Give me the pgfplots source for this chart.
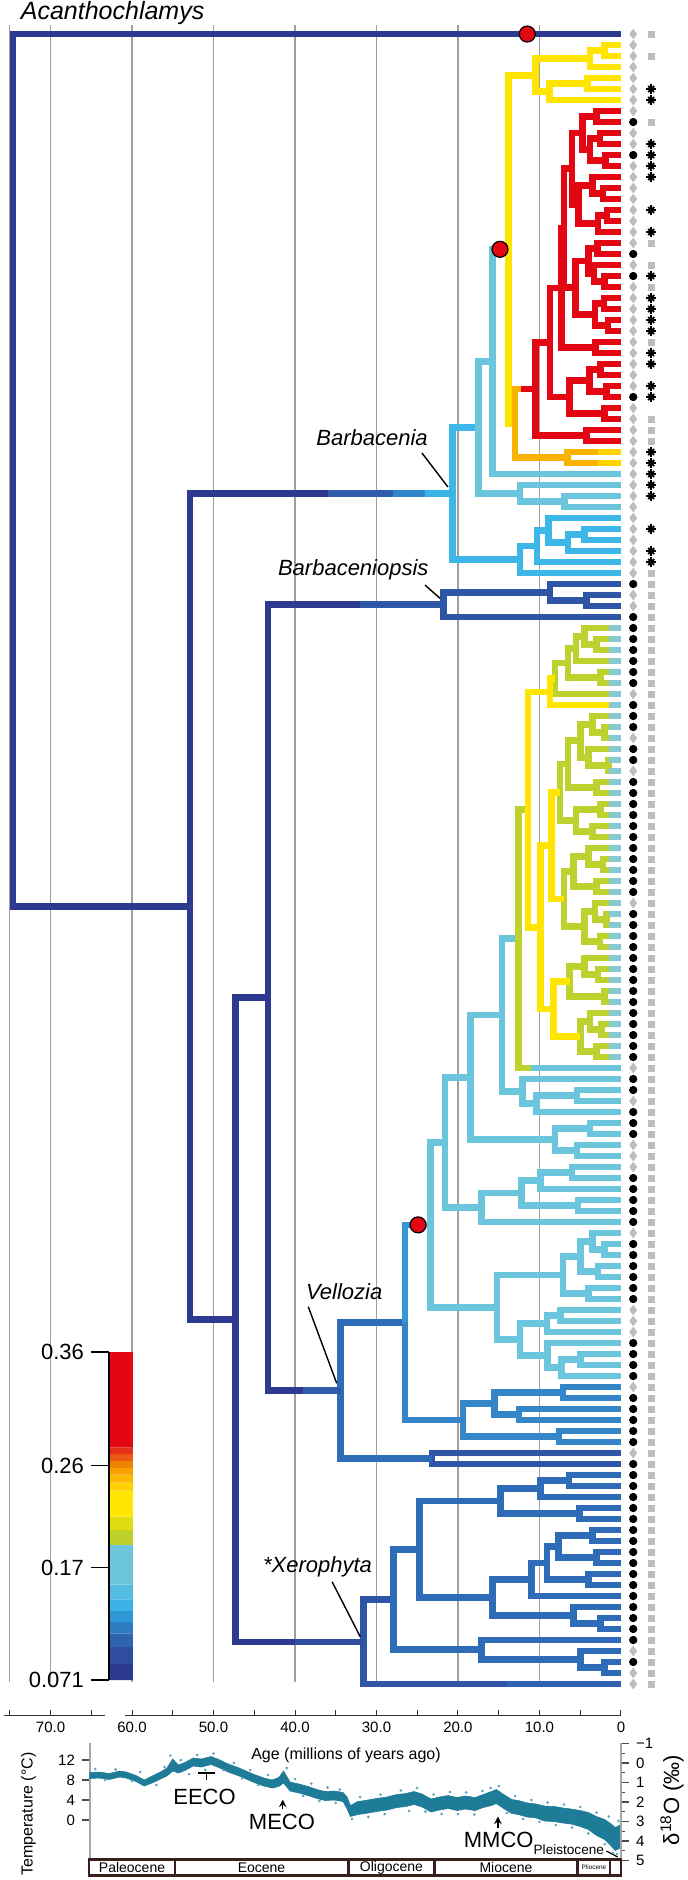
\documentclass[border=0pt]{standalone}
\usepackage{fontspec}
\setmainfont{Liberation Sans}
\usepackage{pgfplots}
\pgfplotsset{compat=1.18}
\definecolor{cNavy}{HTML}{2E3A8F}
\definecolor{cDBlue}{HTML}{2F55A7}
\definecolor{cMBlue}{HTML}{2E6CB7}
\definecolor{cMB2}{HTML}{3586C9}
\definecolor{cV1}{HTML}{3596D6}
\definecolor{cBBlue}{HTML}{3DB7E7}
\definecolor{cLBlue}{HTML}{6BC5DC}
\definecolor{cYG}{HTML}{BDD22E}
\definecolor{cYel}{HTML}{FFE500}
\definecolor{cGold}{HTML}{F9B300}
\definecolor{cRed}{HTML}{E30613}
\definecolor{cTipB}{HTML}{86C8D3}
\definecolor{cYel2}{HTML}{FFD400}
\definecolor{cTeal}{HTML}{1F7C98}
\definecolor{cTealL}{HTML}{5FA6BE}
\definecolor{cEpoch}{HTML}{3B1E1E}
\definecolor{cMark}{HTML}{BDBDBD}
\pgfplotsset{br/.style={line width=3.3pt, line join=miter, mark=none}}
\begin{document}
\begin{tikzpicture}
\useasboundingbox (0,0) rectangle (343.5pt,-940pt);
% ---------------- main tree ----------------
\begin{axis}[at={(0pt,0pt)}, anchor=north west, scale only axis,
  width=343.5pt, height=850pt, xmin=-8.098, xmax=76.196, x dir=reverse,
  ymin=-3.0909, ymax=151.4545, y dir=reverse, hide axis, clip=false,
  unbounded coords=jump, /pgf/number format/assume math mode=true]
% grid lines
\addplot[gray!75, line width=0.6pt, mark=none] coordinates {
(75,-0.8) (75,149.8) (nan,nan) (70,-0.8) (70,149.8) (nan,nan)
(60,-0.8) (60,149.8) (nan,nan) (50,-0.8) (50,149.8) (nan,nan)
(40,-0.8) (40,149.8) (nan,nan) (30,-0.8) (30,149.8) (nan,nan)
(20,-0.8) (20,149.8) (nan,nan) (10,-0.8) (10,149.8)};
% navy backbone
\addplot[br, cNavy] coordinates {
(0,0) (74.6,0) (74.6,79.33) (52.9,79.33) (nan,nan)
(20.7,41.78) (52.9,41.78) (52.9,116.87) (47.3,116.87) (nan,nan)
(43.3,87.59) (47.3,87.59) (47.3,146.16) (31.6,146.16) (nan,nan)
(21.8,51.875) (43.3,51.875) (43.3,123.31) (34.4,123.31)};
% dark blue
\addplot[br, cDBlue] coordinates {
(8.7,50.75) (21.8,50.75) (21.8,53) (0,53) (nan,nan)
(0,50) (8.7,50) (8.7,51.5) (4.2,51.5) (nan,nan)
(0,51) (4.2,51) (4.2,52) (0,52) (nan,nan)
(0,129) (23.2,129) (23.2,130) (0,130) (nan,nan)
(27.9,142.31) (31.6,142.31) (31.6,150) (0,150)};
% mid blue (Vellozia node, Xerophyta)
\addplot[br, cMBlue] coordinates {
(26.5,117.13) (34.4,117.13) (34.4,129.5) (23.2,129.5) (nan,nan)
(24.7,137.75) (27.9,137.75) (27.9,146.875) (17.1,146.875) (nan,nan)
(14.8,133.375) (24.7,133.375) (24.7,142.125) (15.8,142.125) (nan,nan)
(9.9,132.25) (14.8,132.25) (14.8,134.5) (5.1,134.5) (nan,nan)
(6.4,131.5) (9.9,131.5) (9.9,133) (0,133) (nan,nan)
(0,131) (6.4,131) (6.4,132) (0,132) (nan,nan)
(0,134) (5.1,134) (5.1,135) (0,135) (nan,nan)
(11,140.5) (15.8,140.5) (15.8,143.75) (5.8,143.75) (nan,nan)
(9.1,139) (11,139) (11,142) (0,142) (nan,nan)
(7.7,137.5) (9.1,137.5) (9.1,140.5) (4,140.5) (nan,nan)
(3.5,136.5) (7.7,136.5) (7.7,138.5) (3,138.5) (nan,nan)
(0,136) (3.5,136) (3.5,137) (0,137) (nan,nan)
(0,138) (3,138) (3,139) (0,139) (nan,nan)
(0,140) (4,140) (4,141) (0,141) (nan,nan)
(0,143) (5.8,143) (5.8,144.5) (2.5,144.5) (nan,nan)
(0,144) (2.5,144) (2.5,145) (0,145) (nan,nan)
(0,146) (17.1,146) (17.1,147.75) (5,147.75) (nan,nan)
(0,147) (5,147) (5,148.5) (2,148.5) (nan,nan)
(0,148) (2,148) (2,149) (0,149)};
% V1 -> V2
\addplot[br, cV1] coordinates {(26.5,117.13) (26.5,108.26) (23.4,108.26)};
% MB clade
\addplot[br, cMB2] coordinates {
(26.5,117.13) (26.5,126) (19.4,126) (nan,nan)
(15.5,124.5) (19.4,124.5) (19.4,127.5) (7.6,127.5) (nan,nan)
(7.1,123.5) (15.5,123.5) (15.5,125.5) (12.5,125.5) (nan,nan)
(0,123) (7.1,123) (7.1,124) (0,124) (nan,nan)
(0,125) (12.5,125) (12.5,126) (0,126) (nan,nan)
(0,127) (7.6,127) (7.6,128) (0,128)};
% bright blue
\addplot[br, cBBlue] coordinates {
(17.5,35.765) (20.7,35.765) (20.7,47.78) (12.4,47.78) (nan,nan)
(10.3,46.56) (12.4,46.56) (12.4,49) (0,49) (nan,nan)
(8.9,45.125) (10.3,45.125) (10.3,48) (0,48) (nan,nan)
(0,44) (8.9,44) (8.9,46.25) (6.5,46.25) (nan,nan)
(4.5,45.5) (6.5,45.5) (6.5,47) (0,47) (nan,nan)
(0,45) (4.5,45) (4.5,46) (0,46)};
% light blue
\addplot[br, cLBlue] coordinates {
(15.8,29.785) (17.5,29.785) (17.5,41.75) (12.4,41.75) (nan,nan)
(13.8,19.57) (15.8,19.57) (15.8,40) (0,40) (nan,nan)
(0,41) (12.4,41) (12.4,42.5) (6.9,42.5) (nan,nan)
(0,42) (6.9,42) (6.9,43) (0,43) (nan,nan)
(21.6,100.77) (23.4,100.77) (23.4,115.75) (15.2,115.75) (nan,nan)
(18.5,94.84) (21.6,94.84) (21.6,106.69) (17.1,106.69) (nan,nan)
(14.6,89.19) (18.5,89.19) (18.5,100.5) (8.1,100.5) (nan,nan)
(12.6,82.25) (14.6,82.25) (14.6,96.125) (12.1,96.125) (nan,nan)
(0,95) (12.1,95) (12.1,97.25) (10.4,97.25) (nan,nan)
(5.4,96.5) (10.4,96.5) (10.4,98) (0,98) (nan,nan)
(0,96) (5.4,96) (5.4,97) (0,97) (nan,nan)
(3.8,99.5) (8.1,99.5) (8.1,101.5) (5.4,101.5) (nan,nan)
(0,99) (3.8,99) (3.8,100) (0,100) (nan,nan)
(0,101) (5.4,101) (5.4,102) (0,102) (nan,nan)
(12.2,105.375) (17.1,105.375) (17.1,108) (0,108) (nan,nan)
(9.9,104.25) (12.2,104.25) (12.2,106.5) (5.3,106.5) (nan,nan)
(6,103.5) (9.9,103.5) (9.9,105) (0,105) (nan,nan)
(0,103) (6,103) (6,104) (0,104) (nan,nan)
(0,106) (5.3,106) (5.3,107) (0,107) (nan,nan)
(7.1,112.81) (15.2,112.81) (15.2,118.69) (12.4,118.69) (nan,nan)
(5,111.125) (7.1,111.125) (7.1,114.5) (4,114.5) (nan,nan)
(3.5,109.75) (5,109.75) (5,112.5) (2.8,112.5) (nan,nan)
(0,109) (3.5,109) (3.5,110.5) (2,110.5) (nan,nan)
(0,110) (2,110) (2,111) (0,111) (nan,nan)
(0,112) (2.8,112) (2.8,113) (0,113) (nan,nan)
(0,114) (4,114) (4,115) (0,115) (nan,nan)
(9.1,117.25) (12.4,117.25) (12.4,120.125) (9,120.125) (nan,nan)
(7.4,116.5) (9.1,116.5) (9.1,118) (0,118) (nan,nan)
(0,116) (7.4,116) (7.4,117) (0,117) (nan,nan)
(0,119) (9,119) (9,121.25) (7.3,121.25) (nan,nan)
(5,120.5) (7.3,120.5) (7.3,122) (0,122) (nan,nan)
(0,120) (5,120) (5,121) (0,121)};
% yellow-green
\addplot[br, cYG] coordinates {
(11.4,70.5) (12.6,70.5) (12.6,94) (0,94) (nan,nan)
(6.5,57.19) (8.1,57.19) (8.1,60) (0,60) (nan,nan)
(5.5,55.875) (6.5,55.875) (6.5,58.5) (2.5,58.5) (nan,nan)
(4.5,54.75) (5.5,54.75) (5.5,57) (0,57) (nan,nan)
(0,54) (4.5,54) (4.5,55.5) (3,55.5) (nan,nan)
(0,55) (3,55) (3,56) (0,56) (nan,nan)
(0,58) (2.5,58) (2.5,59) (0,59) (nan,nan)
(6.5,66.375) (7.5,66.375) (7.5,71.5) (5.5,71.5) (nan,nan)
(5,64.25) (6.5,64.25) (6.5,68.5) (3,68.5) (nan,nan)
(3.5,62.75) (5,62.75) (5,65.75) (4,65.75) (nan,nan)
(0,62) (3.5,62) (3.5,63.5) (2,63.5) (nan,nan)
(0,63) (2,63) (2,64) (0,64) (nan,nan)
(0,65) (4,65) (4,66.5) (1.5,66.5) (nan,nan)
(0,66) (1.5,66) (1.5,67) (0,67) (nan,nan)
(0,68) (3,68) (3,69) (0,69) (nan,nan)
(2.5,70.5) (5.5,70.5) (5.5,72.5) (3.5,72.5) (nan,nan)
(0,70) (2.5,70) (2.5,71) (0,71) (nan,nan)
(0,72) (3.5,72) (3.5,73) (0,73) (nan,nan)
(5.8,76.125) (7,76.125) (7,81.125) (4.5,81.125) (nan,nan)
(4,74.75) (5.8,74.75) (5.8,77.5) (3,77.5) (nan,nan)
(0,74) (4,74) (4,75.5) (2.2,75.5) (nan,nan)
(0,75) (2.2,75) (2.2,76) (0,76) (nan,nan)
(0,77) (3,77) (3,78) (0,78) (nan,nan)
(3.2,79.75) (4.5,79.75) (4.5,82.5) (2.6,82.5) (nan,nan)
(0,79) (3.2,79) (3.2,80.5) (1.8,80.5) (nan,nan)
(0,80) (1.8,80) (1.8,81) (0,81) (nan,nan)
(0,82) (2.6,82) (2.6,83) (0,83) (nan,nan)
(4.5,84.75) (6.3,84.75) (6.3,87.5) (2,87.5) (nan,nan)
(0,84) (4.5,84) (4.5,85.5) (2.8,85.5) (nan,nan)
(0,85) (2.8,85) (2.8,86) (0,86) (nan,nan)
(0,87) (2,87) (2,88) (0,88) (nan,nan)
(3.8,89.75) (5,89.75) (5,92.5) (3,92.5) (nan,nan)
(0,89) (3.8,89) (3.8,90.5) (2.4,90.5) (nan,nan)
(0,90) (2.4,90) (2.4,91) (0,91) (nan,nan)
(0,92) (3,92) (3,93) (0,93)};
% yellow
\addplot[br, cYel] coordinates {
(10.5,3.75) (13.8,3.75) (13.8,35.385) (13,35.385) (nan,nan)
(3.8,2.25) (10.5,2.25) (10.5,5.25) (8.8,5.25) (nan,nan)
(2,1.5) (3.8,1.5) (3.8,3) (0,3) (nan,nan)
(0,1) (2,1) (2,2) (0,2) (nan,nan)
(4.1,4.5) (8.8,4.5) (8.8,6) (0,6) (nan,nan)
(0,4) (4.1,4) (4.1,5) (0,5) (nan,nan)
(8.7,59.8) (11.4,59.8) (11.4,81.2) (9.9,81.2) (nan,nan)
(8.5,73.78) (9.9,73.78) (9.9,88.625) (8.3,88.625) (nan,nan)
(7.5,68.94) (8.5,68.94) (8.5,78.625) (7,78.625) (nan,nan)
(8.1,58.595) (8.7,58.595) (8.7,61) (0,61) (nan,nan)
(6.3,86.125) (8.3,86.125) (8.3,91.125) (5,91.125)};
% gold
\addplot[br, cGold] coordinates {
(10.5,32.27) (13,32.27) (13,38.5) (6.6,38.5) (nan,nan)
(0,38) (6.6,38) (6.6,39) (0,39)};
% red
\addplot[br, cRed] coordinates {
(8.7,28.04) (10.5,28.04) (10.5,36.5) (4.2,36.5) (nan,nan)
(0,36) (4.2,36) (4.2,37) (0,37) (nan,nan)
(7.3,23.08) (8.7,23.08) (8.7,33) (6.3,33) (nan,nan)
(7,17.655) (7.3,17.655) (7.3,28.5) (3.1,28.5) (nan,nan)
(0,28) (3.1,28) (3.1,29) (0,29) (nan,nan)
(6,12.25) (7,12.25) (7,23.06) (5.6,23.06) (nan,nan)
(4.7,9) (6,9) (6,15.5) (5.2,15.5) (nan,nan)
(3,7.5) (4.7,7.5) (4.7,10.5) (3.8,10.5) (nan,nan)
(0,7) (3,7) (3,8) (0,8) (nan,nan)
(2.6,9.5) (3.8,9.5) (3.8,11.5) (1.9,11.5) (nan,nan)
(0,9) (2.6,9) (2.6,10) (0,10) (nan,nan)
(0,11) (1.9,11) (1.9,12) (0,12) (nan,nan)
(3.5,13.75) (5.2,13.75) (5.2,17.25) (2.8,17.25) (nan,nan)
(0,13) (3.5,13) (3.5,14.5) (2.2,14.5) (nan,nan)
(0,14) (2.2,14) (2.2,15) (0,15) (nan,nan)
(1.7,16.5) (2.8,16.5) (2.8,18) (0,18) (nan,nan)
(0,16) (1.7,16) (1.7,17) (0,17) (nan,nan)
(4,20.625) (5.6,20.625) (5.6,25.5) (3.2,25.5) (nan,nan)
(2.9,19.5) (4,19.5) (4,21.75) (3.3,21.75) (nan,nan)
(0,19) (2.9,19) (2.9,20) (0,20) (nan,nan)
(0,21) (3.3,21) (3.3,22.5) (2,22.5) (nan,nan)
(0,22) (2,22) (2,23) (0,23) (nan,nan)
(2.1,24.5) (3.2,24.5) (3.2,26.5) (1.6,26.5) (nan,nan)
(0,24) (2.1,24) (2.1,25) (0,25) (nan,nan)
(0,26) (1.6,26) (1.6,27) (0,27) (nan,nan)
(3.9,31.5) (6.3,31.5) (6.3,34.5) (2,34.5) (nan,nan)
(2.5,30.5) (3.9,30.5) (3.9,32.5) (1.8,32.5) (nan,nan)
(0,30) (2.5,30) (2.5,31) (0,31) (nan,nan)
(0,32) (1.8,32) (1.8,33) (0,33) (nan,nan)
(0,34) (2,34) (2,35) (0,35)};
% gradient overlays
\addplot[br, color={rgb,255:red,47;green,92;blue,172}] coordinates {(36,41.78) (28,41.78)};
\addplot[br, color={rgb,255:red,47;green,135;blue,205}] coordinates {(28,41.78) (24,41.78)};
\addplot[br, color={rgb,255:red,56;green,179;blue,232}] coordinates {(24,41.78) (20.7,41.78)};
\addplot[br, cDBlue] coordinates {(32,51.875) (21.8,51.875)};
\addplot[br, color={rgb,255:red,46;green,93;blue,173}] coordinates {(39,123.31) (34.4,123.31)};
\addplot[br, color={rgb,255:red,47;green,78;blue,162}] coordinates {(40,146.16) (31.6,146.16)};
\addplot[br, color={rgb,255:red,47;green,98;blue,176}] coordinates {(14,150) (0,150)};
\addplot[br, cLBlue] coordinates {(24.9,108.26) (23.4,108.26) (nan,nan) (11,94) (0,94)};
\addplot[br, cRed] coordinates {(12.3,32.27) (10.5,32.27)};
\addplot[br, cYel2] coordinates {(2.8,38) (0,38) (nan,nan) (2.8,39) (0,39)};
\addplot[br, cTipB] coordinates {
(1.5,54) (0,54) (nan,nan) (1.5,55) (0,55) (nan,nan) (1.5,56) (0,56) (nan,nan)
(1.5,57) (0,57) (nan,nan) (1.5,58) (0,58) (nan,nan) (1.5,59) (0,59) (nan,nan)
(1.5,60) (0,60) (nan,nan) (1.5,61) (0,61) (nan,nan) (1.5,62) (0,62) (nan,nan)
(1.5,63) (0,63) (nan,nan) (1.5,64) (0,64) (nan,nan) (1.5,65) (0,65) (nan,nan)
(1.5,66) (0,66) (nan,nan) (1.5,67) (0,67) (nan,nan) (1.5,68) (0,68) (nan,nan)
(1.5,69) (0,69) (nan,nan) (1.5,70) (0,70) (nan,nan) (1.5,71) (0,71) (nan,nan)
(1.5,72) (0,72) (nan,nan) (1.5,73) (0,73) (nan,nan) (1.5,74) (0,74) (nan,nan)
(1.5,75) (0,75) (nan,nan) (1.5,76) (0,76) (nan,nan) (1.5,77) (0,77) (nan,nan)
(1.5,78) (0,78) (nan,nan) (1.5,79) (0,79) (nan,nan) (1.5,80) (0,80) (nan,nan)
(1.5,81) (0,81) (nan,nan) (1.5,82) (0,82) (nan,nan) (1.5,83) (0,83) (nan,nan)
(1.5,84) (0,84) (nan,nan) (1.5,85) (0,85) (nan,nan) (1.5,86) (0,86) (nan,nan)
(1.5,87) (0,87) (nan,nan) (1.5,88) (0,88) (nan,nan) (1.5,89) (0,89) (nan,nan)
(1.5,90) (0,90) (nan,nan) (1.5,91) (0,91) (nan,nan) (1.5,92) (0,92) (nan,nan)
(1.5,93) (0,93)};
% red circles (rate shifts)
\addplot[only marks, mark=*, mark size=4pt, mark options={fill=cRed, draw=black, line width=0.6pt}]
 coordinates {(11.5,0) (14.85,19.57) (24.9,108.26)};
% column 1: circles and diamonds
\addplot[only marks, mark=*, mark size=1.85pt, black] coordinates {
(-1.5,8) (-1.5,11) (-1.5,20) (-1.5,22) (-1.5,33) (-1.5,50) (-1.5,53) (-1.5,54) (-1.5,55)
(-1.5,56) (-1.5,57) (-1.5,58) (-1.5,59) (-1.5,61) (-1.5,62) (-1.5,63) (-1.5,65) (-1.5,66)
(-1.5,68) (-1.5,69) (-1.5,70) (-1.5,71) (-1.5,72) (-1.5,73) (-1.5,74) (-1.5,75) (-1.5,76)
(-1.5,77) (-1.5,78) (-1.5,80) (-1.5,81) (-1.5,82) (-1.5,83) (-1.5,84) (-1.5,85) (-1.5,86)
(-1.5,87) (-1.5,88) (-1.5,89) (-1.5,90) (-1.5,91) (-1.5,92) (-1.5,93) (-1.5,95) (-1.5,96)
(-1.5,98) (-1.5,99) (-1.5,100) (-1.5,104) (-1.5,105) (-1.5,106) (-1.5,107) (-1.5,108)
(-1.5,110) (-1.5,111) (-1.5,112) (-1.5,113) (-1.5,114) (-1.5,115) (-1.5,119) (-1.5,120)
(-1.5,121) (-1.5,122) (-1.5,124) (-1.5,125) (-1.5,126) (-1.5,127) (-1.5,128) (-1.5,130)
(-1.5,131) (-1.5,132) (-1.5,133) (-1.5,134) (-1.5,135) (-1.5,136) (-1.5,137) (-1.5,138)
(-1.5,139) (-1.5,140) (-1.5,141) (-1.5,142) (-1.5,143) (-1.5,144) (-1.5,145) (-1.5,146)
(-1.5,148)};
\addplot[only marks, mark=diamond*, mark size=2.3pt, cMark] coordinates {
(-1.5,0) (-1.5,1) (-1.5,2) (-1.5,3) (-1.5,4) (-1.5,5) (-1.5,6) (-1.5,7) (-1.5,9) (-1.5,10)
(-1.5,12) (-1.5,13) (-1.5,14) (-1.5,15) (-1.5,16) (-1.5,17) (-1.5,18) (-1.5,19) (-1.5,21)
(-1.5,23) (-1.5,24) (-1.5,25) (-1.5,26) (-1.5,27) (-1.5,28) (-1.5,29) (-1.5,30) (-1.5,31)
(-1.5,32) (-1.5,34) (-1.5,35) (-1.5,36) (-1.5,37) (-1.5,38) (-1.5,39) (-1.5,40) (-1.5,41)
(-1.5,42) (-1.5,43) (-1.5,44) (-1.5,45) (-1.5,46) (-1.5,47) (-1.5,48) (-1.5,49) (-1.5,51)
(-1.5,52) (-1.5,60) (-1.5,64) (-1.5,67) (-1.5,79) (-1.5,94) (-1.5,97) (-1.5,101) (-1.5,102)
(-1.5,103) (-1.5,109) (-1.5,116) (-1.5,117) (-1.5,118) (-1.5,123) (-1.5,129) (-1.5,147)
(-1.5,149) (-1.5,150)};
% column 2: squares and asterisks
\addplot[only marks, mark=square*, mark size=1.55pt, cMark] coordinates {
(-3.7,0) (-3.7,2) (-3.7,8) (-3.7,19) (-3.7,21) (-3.7,23) (-3.7,28) (-3.7,35) (-3.7,36)
(-3.7,37) (-3.7,49) (-3.7,50) (-3.7,51) (-3.7,52) (-3.7,53) (-3.7,54) (-3.7,55) (-3.7,56)
(-3.7,57) (-3.7,58) (-3.7,59) (-3.7,60) (-3.7,61) (-3.7,62) (-3.7,63) (-3.7,64) (-3.7,65)
(-3.7,66) (-3.7,67) (-3.7,68) (-3.7,69) (-3.7,70) (-3.7,71) (-3.7,72) (-3.7,73) (-3.7,74)
(-3.7,75) (-3.7,76) (-3.7,77) (-3.7,78) (-3.7,79) (-3.7,80) (-3.7,81) (-3.7,82) (-3.7,83)
(-3.7,84) (-3.7,85) (-3.7,86) (-3.7,87) (-3.7,88) (-3.7,89) (-3.7,90) (-3.7,91) (-3.7,92)
(-3.7,93) (-3.7,94) (-3.7,95) (-3.7,96) (-3.7,97) (-3.7,98) (-3.7,99) (-3.7,100) (-3.7,101)
(-3.7,102) (-3.7,103) (-3.7,104) (-3.7,105) (-3.7,106) (-3.7,107) (-3.7,108) (-3.7,109)
(-3.7,110) (-3.7,111) (-3.7,112) (-3.7,113) (-3.7,114) (-3.7,115) (-3.7,116) (-3.7,117)
(-3.7,118) (-3.7,119) (-3.7,120) (-3.7,121) (-3.7,122) (-3.7,123) (-3.7,124) (-3.7,125)
(-3.7,126) (-3.7,127) (-3.7,128) (-3.7,129) (-3.7,130) (-3.7,131) (-3.7,132) (-3.7,133)
(-3.7,134) (-3.7,135) (-3.7,136) (-3.7,137) (-3.7,138) (-3.7,139) (-3.7,140) (-3.7,141)
(-3.7,142) (-3.7,143) (-3.7,144) (-3.7,145) (-3.7,146) (-3.7,147) (-3.7,148) (-3.7,149)
(-3.7,150)};
\addplot[only marks, mark=+, mark size=2.4pt, black, mark options={line width=0.95pt}] coordinates {
(-3.7,5) (-3.7,6) (-3.7,10) (-3.7,11) (-3.7,12) (-3.7,13) (-3.7,16) (-3.7,18) (-3.7,22)
(-3.7,24) (-3.7,25) (-3.7,26) (-3.7,27) (-3.7,29) (-3.7,30) (-3.7,32) (-3.7,33) (-3.7,38)
(-3.7,39) (-3.7,40) (-3.7,41) (-3.7,42) (-3.7,45) (-3.7,47) (-3.7,48)};
\addplot[only marks, mark=x, mark size=2.1pt, black, mark options={line width=0.95pt}] coordinates {
(-3.7,5) (-3.7,6) (-3.7,10) (-3.7,11) (-3.7,12) (-3.7,13) (-3.7,16) (-3.7,18) (-3.7,22)
(-3.7,24) (-3.7,25) (-3.7,26) (-3.7,27) (-3.7,29) (-3.7,30) (-3.7,32) (-3.7,33) (-3.7,38)
(-3.7,39) (-3.7,40) (-3.7,41) (-3.7,42) (-3.7,45) (-3.7,47) (-3.7,48)};
% clade labels
\node[font=\fontsize{12.5}{14}\selectfont\itshape, anchor=west] at (axis cs:74.5,-1.9) {Acanthochlamys};
\node[font=\fontsize{11}{13}\selectfont\itshape] at (axis cs:30.55,36.73) {Barbacenia};
\draw[line width=0.7pt] (axis cs:24.42,38.09) -- (axis cs:21.23,41.18);
\node[font=\fontsize{11}{13}\selectfont\itshape] at (axis cs:32.85,48.73) {Barbaceniopsis};
\draw[line width=0.7pt] (axis cs:24.05,50.09) -- (axis cs:22.21,51.3);
\node[font=\fontsize{11}{13}\selectfont\itshape] at (axis cs:33.97,114.34) {Vellozia};
\draw[line width=0.7pt] (axis cs:38.37,115.7) -- (axis cs:34.88,122.66);
\node[font=\fontsize{11}{13}\selectfont\itshape] at (axis cs:37.24,139.33) {*Xerophyta};
\draw[line width=0.7pt] (axis cs:35.45,140.7) -- (axis cs:31.99,145.7);
\end{axis}
% ---------------- colour bar ----------------
\begin{axis}[at={(54.5pt,-676pt)}, anchor=north west, scale only axis,
  width=12pt, height=164pt, xmin=0, xmax=1, ymin=0.071, ymax=0.36,
  axis x line=none, axis y line*=left, axis on top,
  ytick={0.071,0.17,0.26,0.36}, yticklabels={0.071,0.17,0.26,0.36},
  tick align=outside, major tick length=9pt,
  yticklabel style={font=\fontsize{11}{12}\selectfont},
  axis line style={black, line width=0.6pt}, tick style={black, line width=0.6pt}]
\addplot[draw=none, fill={rgb,255:red,46;green,58;blue,143}] coordinates {(0,0.071) (1,0.071) (1,0.085) (0,0.085) (0,0.071)};
\addplot[draw=none, fill={rgb,255:red,47;green,76;blue,159}] coordinates {(0,0.085) (1,0.085) (1,0.100) (0,0.100) (0,0.085)};
\addplot[draw=none, fill={rgb,255:red,47;green,98;blue,175}] coordinates {(0,0.100) (1,0.100) (1,0.112) (0,0.112) (0,0.100)};
\addplot[draw=none, fill={rgb,255:red,46;green,123;blue,194}] coordinates {(0,0.112) (1,0.112) (1,0.122) (0,0.122) (0,0.112)};
\addplot[draw=none, fill={rgb,255:red,47;green,152;blue,214}] coordinates {(0,0.122) (1,0.122) (1,0.132) (0,0.132) (0,0.122)};
\addplot[draw=none, fill={rgb,255:red,59;green,179;blue,230}] coordinates {(0,0.132) (1,0.132) (1,0.142) (0,0.142) (0,0.132)};
\addplot[draw=none, fill={rgb,255:red,82;green,188;blue,226}] coordinates {(0,0.142) (1,0.142) (1,0.155) (0,0.155) (0,0.142)};
\addplot[draw=none, fill={rgb,255:red,108;green,197;blue,220}] coordinates {(0,0.155) (1,0.155) (1,0.190) (0,0.190) (0,0.155)};
\addplot[draw=none, fill={rgb,255:red,191;green,208;blue,43}] coordinates {(0,0.190) (1,0.190) (1,0.203) (0,0.203) (0,0.190)};
\addplot[draw=none, fill={rgb,255:red,224;green,220;blue,16}] coordinates {(0,0.203) (1,0.203) (1,0.215) (0,0.215) (0,0.203)};
\addplot[draw=none, fill={rgb,255:red,255;green,230;blue,0}] coordinates {(0,0.215) (1,0.215) (1,0.238) (0,0.238) (0,0.215)};
\addplot[draw=none, fill={rgb,255:red,255;green,208;blue,0}] coordinates {(0,0.238) (1,0.238) (1,0.245) (0,0.245) (0,0.238)};
\addplot[draw=none, fill={rgb,255:red,252;green,185;blue,0}] coordinates {(0,0.245) (1,0.245) (1,0.252) (0,0.252) (0,0.245)};
\addplot[draw=none, fill={rgb,255:red,247;green,161;blue,0}] coordinates {(0,0.252) (1,0.252) (1,0.258) (0,0.258) (0,0.252)};
\addplot[draw=none, fill={rgb,255:red,240;green,131;blue,0}] coordinates {(0,0.258) (1,0.258) (1,0.264) (0,0.264) (0,0.258)};
\addplot[draw=none, fill={rgb,255:red,234;green,90;blue,20}] coordinates {(0,0.264) (1,0.264) (1,0.270) (0,0.270) (0,0.264)};
\addplot[draw=none, fill={rgb,255:red,229;green,48;blue,26}] coordinates {(0,0.270) (1,0.270) (1,0.276) (0,0.276) (0,0.270)};
\addplot[draw=none, fill={rgb,255:red,227;green,6;blue,19}] coordinates {(0,0.276) (1,0.276) (1,0.360) (0,0.360) (0,0.276)};
\end{axis}
% ---------------- time axis (broken) ----------------
\begin{axis}[at={(2.2pt,-857.5pt)}, anchor=south west, scale only axis,
  width=50.55pt, height=5pt, xmin=63.25, xmax=75.66, x dir=reverse, ymin=0, ymax=1,
  axis x line*=bottom, axis y line=none,
  xtick={70}, xticklabels={70.0}, minor xtick={65,75},
  tick align=inside, major tick length=2.5pt, minor tick length=2.5pt,
  xticklabel style={font=\fontsize{7.5}{8}\selectfont},
  axis line style={black!80, line width=0.5pt}, tick style={black!80, line width=0.5pt}]
\addplot[draw=none] coordinates {(70,0.5)};
\end{axis}
\begin{axis}[at={(62.5pt,-857.5pt)}, anchor=south west, scale only axis,
  width=248pt, height=5pt, xmin=0, xmax=60.86, x dir=reverse, ymin=0, ymax=1,
  axis x line*=bottom, axis y line=none,
  xtick={0,10,20,30,40,50,60}, xticklabels={0,10.0,20.0,30.0,40.0,50.0,60.0},
  minor xtick={5,15,25,35,45,55},
  tick align=inside, major tick length=2.5pt, minor tick length=2.5pt,
  xticklabel style={font=\fontsize{7.5}{8}\selectfont},
  axis line style={black!80, line width=0.5pt}, tick style={black!80, line width=0.5pt}]
\addplot[draw=none] coordinates {(30,0.5)};
\end{axis}
\node[font=\fontsize{8}{9}\selectfont] at (173pt,-877.5pt) {Age (millions of years ago)};
% ---------------- temperature panel ----------------
\begin{axis}[at={(45pt,-871.5pt)}, anchor=north west, scale only axis,
  width=265.5pt, height=60pt, xmin=0, xmax=65.15, x dir=reverse,
  ymin=-8.6, ymax=15.4, axis x line=none, axis y line*=left, clip=false,
  ytick={0,4,8,12}, yticklabels={0,4,8,12}, tick align=outside, major tick length=4pt,
  yticklabel style={font=\fontsize{7.5}{8}\selectfont},
  axis line style={gray!70, line width=0.6pt}, tick style={black!70, line width=0.6pt}]
\addplot[fill=cTeal, draw=cTeal, line width=0.3pt, mark=none] coordinates {
(65.2,9.5) (64,9.6) (62.8,9.3) (61.5,9.8) (60.7,9.6) (59.5,8.9) (58.5,8.0) (57.4,8.9)
(56.5,9.6) (55.7,10.4) (55,12.2) (54.3,11.0) (53.5,11.5) (52.5,12.4) (51.5,12.2) (50.3,12.7)
(49.2,12.0) (48.2,11.2) (47,10.5) (46,9.8) (45,9.1) (43.8,8.4) (42.8,8.0) (42,8.5) (41.4,9.8)
(40.6,7.6) (39.5,7.2) (38.4,6.7) (37.3,6.1) (36.3,5.7) (35.2,5.8) (34.1,5.5) (33.6,4.6)
(33.2,2.9) (32.3,3.7) (31.4,3.9) (30,4.3) (28.7,4.6) (27.5,5.1) (26.4,5.3) (25.4,5.7)
(24.4,5.2) (23.3,4.2) (22.3,4.6) (21.2,4.9) (20.1,4.5) (19.1,4.8) (17.9,4.5) (16.9,5.1)
(15.9,5.7) (15.3,6.1) (14.3,5.0) (13.4,4.1) (12.6,3.9) (11.5,3.4) (10.4,3.2) (9.4,2.8)
(8.2,2.7) (7.1,2.4) (6.1,2.2) (5,1.9) (4,1.5) (3,0.7) (2,0.1) (1.2,-0.8) (0.7,-1.5) (0,-0.9)
(0,-5.5) (0.7,-6.1) (1.2,-5.2) (2,-3.9) (3,-3.1) (4,-1.9) (5,-1.3) (6.1,-0.8) (7.1,-0.6)
(8.2,-0.3) (9.4,-0.2) (10.4,0.4) (11.5,0.6) (12.6,1.1) (13.4,1.3) (14.3,2.2) (15.3,3.3)
(15.9,2.9) (16.9,2.5) (17.9,1.9) (19.1,2.2) (20.1,1.9) (21.2,2.3) (22.3,2.0) (23.3,1.6)
(24.4,2.6) (25.4,3.1) (26.4,2.7) (27.5,2.5) (28.7,2.0) (30,1.7) (31.4,1.3) (32.3,1.1)
(33.2,0.7) (33.6,2.2) (34.1,3.7) (35.2,4.0) (36.3,3.9) (37.3,4.3) (38.4,4.9) (39.5,5.4)
(40.6,5.8) (41.4,7.4) (42,6.7) (42.8,6.4) (43.8,6.8) (45,7.5) (46,8.2) (47,8.9) (48.2,9.6)
(49.2,10.4) (50.3,11.1) (51.5,10.6) (52.5,10.8) (53.5,9.9) (54.3,9.4) (55,9.8) (55.7,8.8)
(56.5,8.2) (57.4,7.5) (58.5,6.8) (59.5,7.7) (60.7,8.4) (61.5,8.6) (62.8,8.1) (64,8.4)
(65.2,8.3) (65.2,9.5)};
\addplot[only marks, mark=*, mark size=0.45pt, cTealL] coordinates {
(64.5,10.2) (63.3,8.0) (62,10.1) (60,7.8) (59,9.6) (57,7.0) (56,10.6) (55.3,12.9) (54,12.0)
(53,9.2) (52,13.0) (51,10.0) (50,13.3) (48.8,10.0) (47.5,11.4) (46.5,8.3) (45.5,10.0) (44.5,7.0)
(43.3,9.0) (41,10.4) (40,8.2) (39,4.8) (38,7.3) (37,3.8) (36,6.5) (35,3.4) (34.5,6.1) (33,0.2)
(32,4.6) (31,0.6) (29.5,5.1) (29,1.2) (27,5.9) (26,1.8) (25,6.4) (24,1.7) (23,5.1) (22,1.2)
(21,5.6) (20,1.2) (19,5.5) (18,1.1) (17,5.8) (16,6.4) (15,6.8) (14,1.4) (13,4.8) (12,0.2)
(11,4.0) (10,-0.4) (9,3.5) (8,-1.0) (7,3.1) (6,-1.5) (5,2.6) (4,-2.7) (3,1.5) (2,-4.8)
(1.5,0.7) (1,-6.6) (0.3,-0.2) (0.5,-6.8)};
\draw[line width=0.9pt] (axis cs:51.9,9.33) -- (axis cs:49.8,9.33);
\draw[line width=0.7pt] (axis cs:50.85,9.33) -- (axis cs:50.85,8.0);
\node[font=\fontsize{11}{12}\selectfont] at (axis cs:51.1,4.67) {EECO};
\draw[-stealth, line width=0.7pt] (axis cs:41.5,2.3) -- (axis cs:41.5,4.1);
\node[font=\fontsize{11}{12}\selectfont] at (axis cs:41.6,-0.33) {MECO};
\draw[-stealth, line width=0.7pt] (axis cs:15.1,-1.5) -- (axis cs:15.1,0.7);
\node[font=\fontsize{11}{12}\selectfont] at (axis cs:15.0,-4) {MMCO};
\node[font=\fontsize{6.8}{7}\selectfont] at (axis cs:6.4,-5.9) {Pleistocene};
\draw[line width=0.6pt] (axis cs:1.8,-6.2) -- (axis cs:0.4,-7.4);
\end{axis}
\begin{axis}[at={(45pt,-871.5pt)}, anchor=north west, scale only axis,
  width=265.5pt, height=60pt, xmin=0, xmax=65.15, x dir=reverse,
  ymin=-1.026, ymax=5.128, y dir=reverse, axis x line=none, axis y line*=right,
  ytick={-1,0,1,2,3,4,5}, yticklabels={−1,0,1,2,3,4,5},
  minor ytick={-0.5,0.5,1.5,2.5,3.5,4.5},
  tick align=outside, major tick length=4pt, minor tick length=2pt,
  yticklabel style={font=\fontsize{7.5}{8}\selectfont},
  axis line style={gray!70, line width=0.6pt}, tick style={black!70, line width=0.6pt}]
\addplot[draw=none] coordinates {(30,2)};
\end{axis}
\node[font=\fontsize{8}{9}\selectfont, rotate=90] at (14.3pt,-907pt) {Temperature (°C)};
\node[font=\fontsize{11}{12}\selectfont, rotate=90] at (336pt,-900pt) {δ\textsuperscript{18}O (‰)};
% epoch bar
\fill[cEpoch] (44pt,-929pt) rectangle (311pt,-938.5pt);
\fill[white] (45pt,-930.5pt) rectangle (87pt,-937pt);
\fill[white] (88pt,-930.5pt) rectangle (173.5pt,-937pt);
\fill[white] (175pt,-930.5pt) rectangle (216.5pt,-937pt);
\fill[white] (218pt,-930.5pt) rectangle (288pt,-937pt);
\fill[white] (289.5pt,-930.5pt) rectangle (304.5pt,-937pt);
\fill[white] (305.5pt,-930.5pt) rectangle (310pt,-937pt);
\node[font=\fontsize{7}{7}\selectfont] at (66pt,-933.75pt) {Paleocene};
\node[font=\fontsize{7}{7}\selectfont] at (130.75pt,-933.75pt) {Eocene};
\node[font=\fontsize{7}{7}\selectfont] at (195.75pt,-933.75pt) {Oligocene};
\node[font=\fontsize{7}{7}\selectfont] at (253pt,-933.75pt) {Miocene};
\node[font=\fontsize{3.2}{3.5}\selectfont, inner sep=0pt] at (297pt,-933.75pt) {Pliocene};
\end{tikzpicture}
\end{document}
